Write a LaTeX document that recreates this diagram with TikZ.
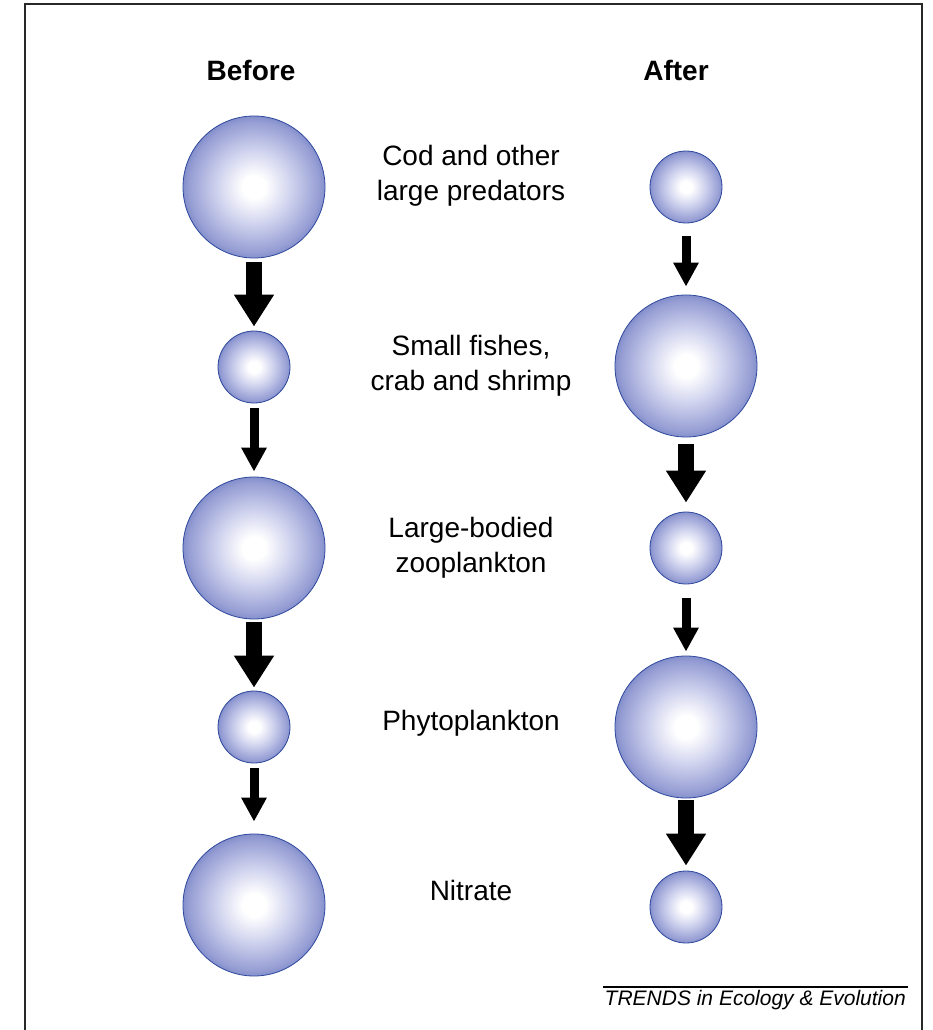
\documentclass[tikz,border=0pt]{standalone}
\usepackage{fontspec}
\setmainfont{Liberation Sans}
\usetikzlibrary{arrows.meta}

\definecolor{orbmidA}{RGB}{208,211,238}
\definecolor{orbmidB}{RGB}{150,158,212}
\definecolor{orbdeep}{RGB}{86,104,180}
\definecolor{orbrim}{RGB}{46,72,158}
\definecolor{framegray}{RGB}{40,40,40}

% white core fading to a blue rim; the disc rim sits at about 35bp
\pgfdeclareradialshading{orb}{\pgfpoint{0bp}{0bp}}{%
  color(0bp)=(white); color(4bp)=(white); color(13bp)=(orbmidA);
  color(23bp)=(orbmidB); color(30bp)=(orbdeep); color(33.5bp)=(orbrim);
  color(50bp)=(orbrim)}

\tikzset{
  orbbig/.style={circle, inner sep=0pt, minimum size=142pt, shading=orb, draw=orbrim, line width=0.8pt},
  orbsmall/.style={circle, inner sep=0pt, minimum size=72pt, shading=orb, draw=orbrim, line width=0.8pt},
  fatarrow/.style={line width=16pt, -{Triangle[width=38pt,length=32pt]}},
  slimarrow/.style={line width=9pt, -{Triangle[width=24pt,length=24pt]}},
  label/.style={font=\fontsize{28}{35}\selectfont, align=center, inner sep=0pt},
  heading/.style={font=\fontsize{28}{35}\selectfont\bfseries, inner sep=0pt},
}

\begin{document}
\begin{tikzpicture}[x=1pt,y=-1pt]
\useasboundingbox (0,0) rectangle (933,1030);
\fill[white] (0,0) rectangle (933,1030);
\draw[framegray, line width=2.5pt] (25,4) rectangle (922,1031);

% column headings
\node[heading] (before) at (251,70) {Before};
\node[heading] (after)  at (676,70) {After};

% trophic levels before
\node[orbbig]   (b1) at (254,187) {};
\node[orbsmall] (b2) at (254,367) {};
\node[orbbig]   (b3) at (254,548) {};
\node[orbsmall] (b4) at (254,727) {};
\node[orbbig]   (b5) at (254,905) {};

% trophic levels after
\node[orbsmall] (a1) at (686,187) {};
\node[orbbig]   (a2) at (686,366) {};
\node[orbsmall] (a3) at (686,548) {};
\node[orbbig]   (a4) at (686,727) {};
\node[orbsmall] (a5) at (686,907) {};

% level names
\node[label] (l1) at (471,176) {Cod and other\\large predators};
\node[label] (l2) at (471,366) {Small fishes,\\crab and shrimp};
\node[label] (l3) at (471,548) {Large-bodied\\zooplankton};
\node[label] (l4) at (471,723) {Phytoplankton};
\node[label] (l5) at (471,890) {Nitrate};

% flows before
\draw[fatarrow,  shorten <=4pt, shorten >=4pt]  (b1) -- (b2);
\draw[slimarrow, shorten <=5pt, shorten >=5pt]  (b2) -- (b3);
\draw[fatarrow,  shorten <=3pt, shorten >=3pt]  (b3) -- (b4);
\draw[slimarrow, shorten <=5pt, shorten >=12pt] (b4) -- (b5);

% flows after
\draw[slimarrow, shorten <=13pt, shorten >=8pt] (a1) -- (a2);
\draw[fatarrow,  shorten <=7pt, shorten >=9pt]  (a2) -- (a3);
\draw[slimarrow, shorten <=14pt, shorten >=4pt] (a3) -- (a4);
\draw[fatarrow,  shorten <=2pt, shorten >=5pt]  (a4) -- (a5);

% journal credit
\coordinate (ruleL) at (603,987);
\coordinate (ruleR) at (908,987);
\draw[line width=2pt] (ruleL) -- (ruleR);
\node[font=\fontsize{21}{24}\selectfont\itshape, anchor=base east, inner sep=0pt] (credit) at (906,1005) {TRENDS in Ecology \& Evolution};
\end{tikzpicture}
\end{document}
